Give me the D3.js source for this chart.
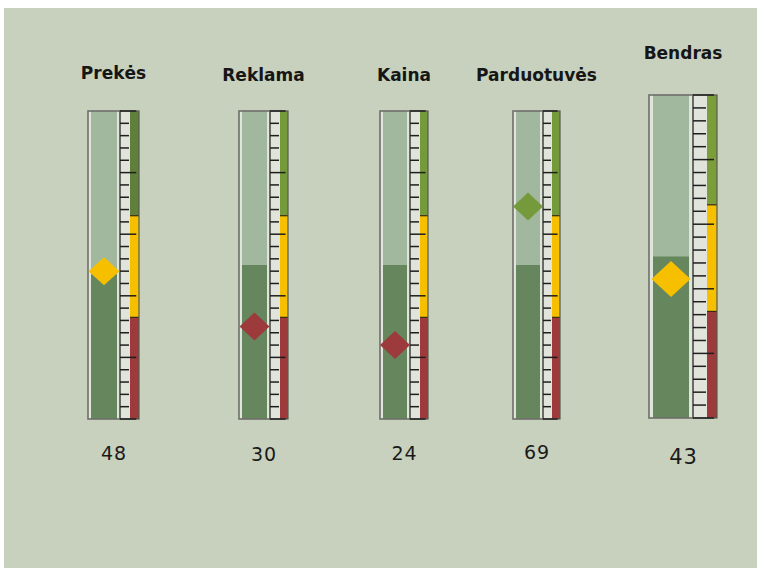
<!doctype html>
<html lang="lt">
  <head>
    <meta charset="utf-8">
    <script src="https://d3js.org/d3.v7.min.js"></script>
    <title>Rodikliai</title>
    <style>
      body { margin: 0; background: #fff; }
      .title { font: bold 17px "DejaVu Sans", sans-serif; fill: #161616; text-anchor: middle; }
      .value { font: 18px "DejaVu Sans", sans-serif; fill: #1a1a1a; text-anchor: middle; letter-spacing: 1px; }
    </style>
  </head>
  <body>
    <svg width="757" height="568"></svg>
    <script>
      // data
      const categories = ["Prekės", "Reklama", "Kaina", "Parduotuvės", "Bendras"];
      const values = [48, 30, 24, 69, 43];
      const fillValues = [47, 50, 50, 50, 50];   // dark fill level behind the marker
      const zoneLimits = [0, 33, 66, 100];
      const zoneColors = ["#9c3a3c", "#f6c000", "#759a3b"];
      const tickValues = d3.range(0, 101, 4);

      // layout of each gauge (pixels)
      const layout = [
        { x: 88,  top: 111, bottom: 419, barW: 32, scaleW: 10, bandW: 9,  dW: 31, dH: 28, inset: 3, titleY: 79, labelY: 460, fs: 19, green: "#5f7f3a" },
        { x: 239, top: 111, bottom: 419, barW: 31, scaleW: 10, bandW: 8,  dW: 30, dH: 28, inset: 3, titleY: 81, labelY: 461, fs: 19, green: "#759a3b" },
        { x: 380, top: 111, bottom: 419, barW: 30, scaleW: 10, bandW: 8,  dW: 30, dH: 28, inset: 3, titleY: 81, labelY: 460, fs: 19, green: "#759a3b" },
        { x: 513, top: 111, bottom: 419, barW: 30, scaleW: 9,  bandW: 8,  dW: 30, dH: 28, inset: 3, titleY: 81, labelY: 459, fs: 19, green: "#759a3b" },
        { x: 649, top: 95,  bottom: 418, barW: 44, scaleW: 14, bandW: 10, dW: 39, dH: 36, inset: 4, titleY: 59, labelY: 464, fs: 21, green: "#7b9e3a" }
      ];

      const svg = d3.select("svg");

      // background panel
      svg.append("rect")
        .attr("x", 4).attr("y", 8)
        .attr("width", 753).attr("height", 560)
        .attr("fill", "#c8d1bd");

      const zoneIndex = v => Math.min(d3.bisectRight(zoneLimits, v) - 1, zoneColors.length - 1);

      categories.forEach((name, i) => {
        const L = layout[i];
        const y = d3.scaleLinear().domain([0, 100]).range([L.bottom, L.top]);
        const colors = zoneColors.map((c, k) => k === 2 ? L.green : c);
        const g = svg.append("g");
        const sx = L.x + L.barW;          // scale left edge
        const bx = sx + L.scaleW;         // band left edge
        const h = L.bottom - L.top;

        // bar: light inner strip, pale background, dark fill
        g.append("rect")
          .attr("x", L.x).attr("y", L.top)
          .attr("width", L.barW).attr("height", h)
          .attr("fill", "#dfe5da");
        g.append("rect")
          .attr("x", L.x + L.inset).attr("y", L.top)
          .attr("width", L.barW - 2 * L.inset).attr("height", h)
          .attr("fill", "#a2b89e");
        g.append("rect")
          .attr("x", L.x + L.inset).attr("y", y(fillValues[i]))
          .attr("width", L.barW - 2 * L.inset).attr("height", L.bottom - y(fillValues[i]))
          .attr("fill", "#66865e");

        // scale background
        g.append("rect")
          .attr("x", sx).attr("y", L.top)
          .attr("width", L.scaleW).attr("height", h)
          .attr("fill", "#e1e4db");

        // colour bands
        g.selectAll("rect.zone")
          .data(colors)
          .enter().append("rect")
          .attr("class", "zone")
          .attr("x", bx)
          .attr("y", (c, k) => y(zoneLimits[k + 1]))
          .attr("width", L.bandW)
          .attr("height", (c, k) => y(zoneLimits[k]) - y(zoneLimits[k + 1]))
          .attr("fill", c => c);

        // zone separators
        g.selectAll("line.sep")
          .data(zoneLimits.slice(1, -1))
          .enter().append("line")
          .attr("x1", bx).attr("x2", bx + L.bandW)
          .attr("y1", d => y(d)).attr("y2", d => y(d))
          .attr("stroke", "#3a2a10").attr("stroke-width", 1.2);

        // outlines
        g.append("rect")
          .attr("x", L.x).attr("y", L.top)
          .attr("width", L.barW).attr("height", h)
          .attr("fill", "none").attr("stroke", "#6e6e6a").attr("stroke-width", 1.6);
        g.append("rect")
          .attr("x", sx).attr("y", L.top)
          .attr("width", L.scaleW + L.bandW).attr("height", h)
          .attr("fill", "none").attr("stroke", "#555a50").attr("stroke-width", 1.2);

        // ticks
        g.selectAll("line.tick")
          .data(tickValues)
          .enter().append("line")
          .attr("x1", sx)
          .attr("x2", d => d % 20 === 0 ? bx + L.bandW * 0.7 : sx + L.scaleW - 1)
          .attr("y1", d => y(d)).attr("y2", d => y(d))
          .attr("stroke", "#1e1e1e").attr("stroke-width", 1.5);

        // diamond marker
        const cx = L.x + L.barW / 2;
        const cy = y(values[i]);
        g.append("path")
          .attr("d", `M${cx},${cy - L.dH / 2}L${cx + L.dW / 2},${cy}L${cx},${cy + L.dH / 2}L${cx - L.dW / 2},${cy}Z`)
          .attr("fill", colors[zoneIndex(values[i])]);

        // texts
        const mid = L.x + (L.barW + L.scaleW + L.bandW) / 2;
        g.append("text")
          .attr("class", "title")
          .attr("x", mid).attr("y", L.titleY)
          .text(name);
        g.append("text")
          .attr("class", "value")
          .attr("x", mid + 0.5).attr("y", L.labelY)
          .style("font-size", L.fs + "px")
          .text(values[i]);
      });
    </script>
  </body>
</html>
